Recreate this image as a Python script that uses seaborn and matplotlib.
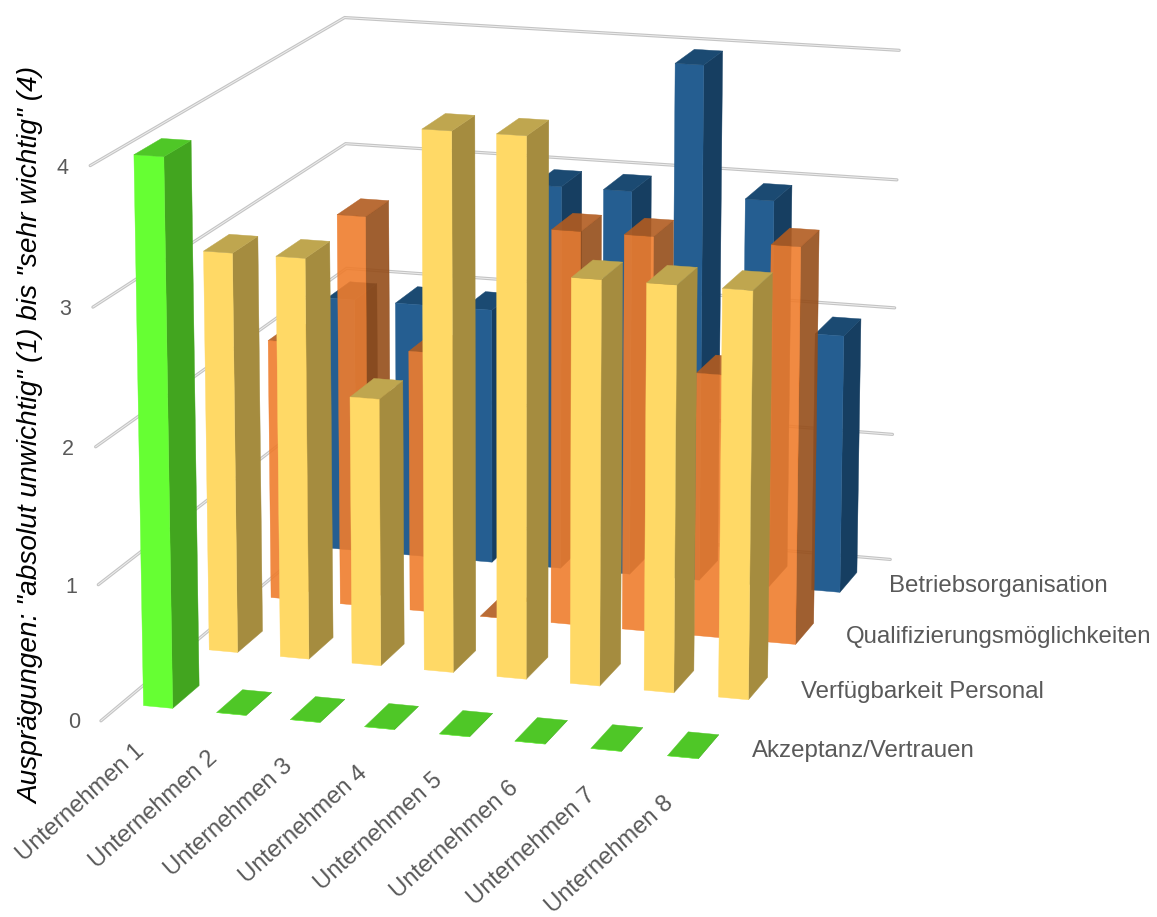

import matplotlib
matplotlib.use('Agg')
import matplotlib.pyplot as plt
import seaborn as sns
from matplotlib.colors import to_rgba
from mpl_toolkits.mplot3d import Axes3D, proj3d  # noqa: F401

companies = ["Unternehmen 1", "Unternehmen 2", "Unternehmen 3", "Unternehmen 4",
             "Unternehmen 5", "Unternehmen 6", "Unternehmen 7", "Unternehmen 8"]
series_names = ["Akzeptanz/Vertrauen", "Verfügbarkeit Personal",
                "Qualifizierungsmöglichkeiten", "Betriebsorganisation"]
akzeptanz = [4, 0, 0, 0, 0, 0, 0, 0]
verfuegbarkeit = [3, 3, 2, 4, 4, 3, 3, 3]
qualifizierung = [2, 3, 2, 0, 3, 3, 2, 3]
betrieb = [2, 2, 2, 3, 3, 4, 3, 2]
levels = [0, 1, 2, 3, 4]
ylabel = 'Ausprägungen: "absolut unwichtig" (1) bis "sehr wichtig" (4)'

# (front, side, top, alpha)
styles = [("#66FF33", "#42A51F", "#4FC727", 1.0),
          ("#FFD966", "#A58C3F", "#BFA64F", 1.0),
          ("#EF7D2D", "#954D19", "#B25C20", 0.9),
          ("#255E91", "#163E61", "#1B4A72", 1.0)]

sns.set_theme(style="white")
plt.rcParams['font.family'] = ['Liberation Sans', 'DejaVu Sans']

W, H = 1157, 917
fig = plt.figure(figsize=(W / 100, H / 100), dpi=100, facecolor='white')
S, L, B = 1079.17, -40.45, -11.27
ax = fig.add_axes([L / W, B / H, S / W, S / H], projection='3d')
ax.computed_zorder = False
ax.view_init(elev=14.70, azim=-73.14)
ax.set_proj_type('persp', focal_length=0.9746)
ax.set_box_aspect((1.1011, 1.3735, 1.0))

# gridlines on the left and back walls
for lv in levels:
    xs, ys, zs = [0, 0, 8], [0, 4, 4], [lv, lv, lv]
    ax.plot(xs, ys, zs, color='#c4c4c4', lw=2.3, zorder=1, solid_joinstyle='miter')
    ax.plot(xs, ys, zs, color='#eeeeee', lw=0.7, zorder=1.1, solid_joinstyle='miter')

none = (0, 0, 0, 0)
bw = bd = 0.4
all_series = [akzeptanz, verfuegbarkeit, qualifizierung, betrieb]
for j in range(3, -1, -1):
    front, side, top, alpha = styles[j]
    for i, val in enumerate(all_series[j]):
        f, s, t = (to_rgba(c, alpha) for c in (front, side, top))
        # faces: bottom, top, front, back, left, right
        faces = [none, t, f, none, none, s]
        coll = ax.bar3d(i + .5 - bw / 2, j + .5 - bd / 2, 0, bw, bd, val,
                        color=faces, shade=False, zorder=10 + (3 - j) * 10 + i)
        coll.set_edgecolor([none, t, f, none, none, s])
        coll.set_linewidth(0.3)

ax.set_xlim(0, 8)
ax.set_ylim(0, 4)
ax.set_zlim(0, 4)
ax.set_xticks([])
ax.set_yticks([])
ax.set_zticks([])
ax.set_axis_off()


def label(x, y, z, s, **kw):
    """Place a flat text at the screen position of a point of the 3D scene."""
    u, v, _ = proj3d.proj_transform(x, y, z, ax.get_proj())
    ax.text2D(u, v, s, transform=ax.transData, color='#595959', zorder=100, **kw)


for lv in levels:
    label(-0.37, 0, lv - 0.035, str(lv), fontsize=15.5, ha='center', va='center')
for i, name in enumerate(companies):
    label(i + .54, 0, -0.175, name, fontsize=17.1, rotation=42,
          rotation_mode='anchor', ha='right', va='center')
for j, name in enumerate(series_names):
    label(8.27, j + .5, 0, name, fontsize=17.3, ha='left', va='center')

fig.text(31 / W, 1 - 435 / H, ylabel, color='black', fontsize=20.2, style='italic',
         rotation=90, ha='center', va='center')

fig.savefig('out.png', dpi=100)
